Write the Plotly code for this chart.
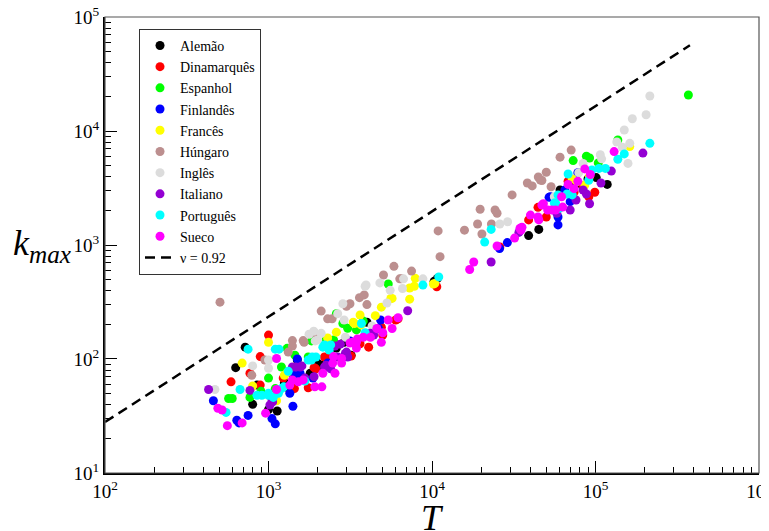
import plotly.graph_objects as go

# ---- data (T = text length, k_max) ----
languages = ["Alemão", "Dinamarquês", "Espanhol", "Finlandês", "Francês",
             "Húngaro", "Inglês", "Italiano", "Português", "Sueco"]
colors = ["#000000", "#ff0000", "#00ff00", "#0000ff", "#ffff00",
          "#bc8f8f", "#dcdcdc", "#9400d3", "#00ffff", "#ff00ff"]

alemao_T = [720, 630, 850, 800, 1000, 1130, 1350, 2000, 1500, 2100, 3200, 2600, 4000, 10300, 10800,
            39000, 45000, 60700, 101000, 118000, 75000, 90000, 1250, 1800, 2900]
alemao_k = [127, 84, 59, 40, 36, 35, 53, 92, 98, 88, 108, 125, 210, 480, 510,
            1210, 1370, 3040, 3900, 3400, 3360, 3800, 62, 75, 140]

dinam_T = [1000, 890, 770, 590, 890, 1230, 1440, 1900, 1750, 1950, 2200, 3200, 3630, 4100, 5000,
           6000, 6200, 4900, 10700, 2400,
           39000, 44500, 50000, 68000, 99000, 91000, 74000, 26000, 84000]
dinam_k = [162, 105, 75, 63, 59, 68, 55, 84, 56, 82, 104, 106, 136, 127, 162,
           220, 225, 190, 430, 108,
           1660, 2140, 1760, 3630, 2900, 2650, 2920, 960, 3300]

esp_T = [1000, 570, 600, 770, 1100, 1200, 1300, 1750, 1450, 1830, 2250, 2500, 2600, 2850, 3050,
         3450, 3800, 5400, 900,
         73000, 92000, 137000, 370000, 104000, 88000]
esp_k = [68, 45, 45, 46, 55, 85, 124, 104, 108, 144, 147, 147, 250, 205, 186,
         180, 215, 455, 52,
         5500, 5800, 8350, 20700, 5250, 6000]

fin_T = [460, 640, 660, 750, 1100, 1410, 1500, 1400, 1560, 1350, 1500, 1870, 2300, 3150, 3900,
         4700, 4850, 1050,
         25900, 28900, 53000, 59000, 52000, 59000, 65000, 78000, 70000]
fin_k = [43, 29, 27.5, 32, 27, 38.5, 68, 74, 75, 50, 100, 68, 92, 144, 162,
         185, 220, 30,
         930, 1050, 2650, 1500, 2620, 1760, 3040, 4300, 2400]

fra_T = [1000, 690, 1120, 1300, 1250, 2300, 2600, 3300, 3350, 3630, 3680, 4500, 4900, 5600, 5700,
         7300, 7300, 7900, 7800, 10200, 10400, 800,
         72000, 162000, 86000, 92000, 77000]
fra_k = [140, 92, 43, 76, 72, 153, 172, 210, 205, 243, 199, 240, 285, 340, 340,
         335, 420, 510, 435, 455, 460, 58,
         3800, 7300, 3360, 4000, 3600]

hun_T = [505, 790, 1400, 1400, 1320, 1630, 1900, 1650, 2100, 2300, 2450, 3000, 3150, 3600, 4000,
         3850, 5050, 5850, 6350, 6500, 7500, 11200, 10900, 950,
         15800, 19700, 24300, 25000, 19000, 23100, 20200, 30900, 38300, 41000, 44700, 50000,
         47000, 53500, 60700, 71000, 46000]
hun_k = [315, 72, 145, 130, 115, 145, 170, 140, 263, 225, 225, 290, 305, 345, 300,
         365, 545, 650, 505, 505, 590, 790, 1330, 98,
         1350, 2060, 2030, 1900, 1530, 1530, 1250, 2750, 3500, 3300, 3950, 4350,
         3680, 3240, 5900, 6800, 3720]

ing_T = [470, 800, 1000, 1000, 1770, 2000, 1930, 2100, 2650, 2850, 2900, 2950, 3900, 3950, 4300,
         4800, 5300, 5550, 6600, 6700, 8800, 1890,
         26000, 29000, 56000, 79000, 84000, 107000, 109000, 135000, 146000, 150000, 158000,
         162000, 168000, 204000, 215000]
ing_k = [54, 87, 83, 98, 165, 147, 144, 168, 250, 305, 220, 155, 435, 446, 195,
         465, 310, 400, 415, 505, 505, 175,
         1530, 1600, 2650, 4300, 5200, 6200, 5700, 8000, 7200, 10200, 5200,
         7800, 12800, 13900, 20300]

ita_T = [430, 770, 1050, 1020, 1060, 1470, 1600, 1400, 1560, 1900, 2200, 2250, 2400, 2650, 2750,
         2950, 3050, 3000, 2550, 4200, 4400, 7100, 1670,
         23000, 34000, 58000, 70000, 76000, 84000, 88000, 108000, 125000, 195000, 92000]
ita_k = [54, 53, 44, 39.5, 42, 85, 87, 85, 85, 70, 85, 88, 82, 104, 135,
         112, 104, 115, 130, 168, 162, 265, 68,
         710, 1290, 1900, 2030, 2480, 3040, 2800, 3500, 4450, 6400, 2300]

por_T = [750, 670, 550, 910, 1000, 1070, 850, 1000, 1100, 1160, 1200, 1320, 1670, 1750, 1830,
         1850, 1950, 2200, 2400, 2150, 2350, 3700, 3900, 8800, 11000, 1150, 1240,
         21000, 23000, 56000, 57000, 60000, 67000, 72000, 59000, 68000, 91000, 95000,
         105000, 115000, 137000, 150000, 215000]
por_k = [122, 54, 34, 48, 48, 46, 48, 50, 122, 122, 55, 78, 64, 98, 98,
         104, 104, 133, 133, 127, 120, 205, 170, 445, 525, 50, 57,
         1060, 1370, 2330, 2330, 2100, 2800, 2750, 2750, 4200, 3700, 4550,
         4700, 4700, 5650, 6300, 7800]

sue_T = [520, 560, 690, 1120, 960, 1120, 1400, 1520, 1350, 1630, 1920, 2120, 2150, 2470, 2550,
         2800, 2800, 2500, 3150, 3260, 3450, 3500, 3800, 3450, 4200, 4600, 5000, 4900, 5400,
         5700, 6200, 490,
         17000, 18000, 25000, 32000, 34500, 35500, 40000, 44500, 45000, 48000, 51000, 57000,
         63000, 54000, 47000, 35000, 62000, 68000, 74000, 78000, 86000, 93000, 130000]
sue_k = [35.7, 26, 27.5, 54, 33.5, 101, 65.5, 63, 59, 65.5, 57, 57, 75, 92, 75,
         92, 101, 105, 138, 140, 140, 150, 155, 125, 155, 185, 170, 140, 220,
         185, 230, 37,
         610, 710, 980, 1150, 1400, 1430, 1830, 1760, 1660, 2300, 2030, 2030,
         2150, 2030, 2240, 1350, 2650, 3400, 3120, 3620, 4650, 4150, 6600]

series_T = [alemao_T, dinam_T, esp_T, fin_T, fra_T, hun_T, ing_T, ita_T, por_T, sue_T]
series_k = [alemao_k, dinam_k, esp_k, fin_k, fra_k, hun_k, ing_k, ita_k, por_k, sue_k]

# power-law guide line k = A * T^nu
fit_T = [100, 378000]
fit_k = [28, 56500]
fit_label = "ν = 0.92"

x_tick_vals = [1e2, 1e3, 1e4, 1e5, 1e6]
x_tick_text = ["10<sup>2</sup>", "10<sup>3</sup>", "10<sup>4</sup>", "10<sup>5</sup>", "10<sup>6</sup>"]
y_tick_vals = [1e1, 1e2, 1e3, 1e4, 1e5]
y_tick_text = ["10<sup>1</sup>", "10<sup>2</sup>", "10<sup>3</sup>", "10<sup>4</sup>", "10<sup>5</sup>"]
minor_digits = [2, 3, 4, 5, 6, 7, 8, 9]
x_minor = [d * 10 ** e for e in range(2, 6) for d in minor_digits]
y_minor = [d * 10 ** e for e in range(1, 5) for d in minor_digits]

x_range = [1.9999, 6.0001]
y_range = [0.9999, 5.0001]

SERIF = "Liberation Serif, Times New Roman, serif"

fig = go.Figure()
for name, col, tx, ky in zip(languages, colors, series_T, series_k):
    fig.add_trace(go.Scatter(x=tx, y=ky, mode="markers", name=name,
                             marker=dict(color=col, size=9, line=dict(width=0))))

fig.add_trace(go.Scatter(x=fit_T, y=fit_k, mode="lines", name=fit_label,
                         line=dict(color="black", width=2.5, dash="10px,6px")))

axis_common = dict(
    type="log", showgrid=False, zeroline=False, automargin=False,
    ticks="inside", ticklen=12, tickwidth=1.2, tickcolor="black",
    showline=True, linecolor="black", linewidth=2,
    ticklabeloverflow="allow",
    tickfont=dict(family=SERIF, size=19, color="black"),
)
fig.update_layout(
    xaxis=dict(**axis_common, range=x_range, tickmode="array",
               tickvals=x_tick_vals, ticktext=x_tick_text),
    yaxis=dict(**axis_common, range=y_range, tickmode="array",
               tickvals=y_tick_vals, ticktext=y_tick_text),
    # overlay axes that carry the minor ticks only
    xaxis2=dict(type="log", range=x_range, overlaying="x", side="bottom", anchor="y",
                showgrid=False, zeroline=False, showline=False, automargin=False,
                tickmode="array", tickvals=x_minor, ticks="inside", ticklen=6,
                tickwidth=1, tickcolor="black", showticklabels=False),
    yaxis2=dict(type="log", range=y_range, overlaying="y", side="left", anchor="x",
                showgrid=False, zeroline=False, showline=False, automargin=False,
                tickmode="array", tickvals=y_minor, ticks="inside", ticklen=6,
                tickwidth=1, tickcolor="black", showticklabels=False),
)
# invisible trace so the minor-tick axes are drawn
fig.add_trace(go.Scatter(x=[fit_T[0]], y=[fit_k[0]], xaxis="x2", yaxis="y2",
                         mode="markers", marker=dict(opacity=0), showlegend=False,
                         hoverinfo="skip"))

fig.update_layout(
    width=761, height=523,
    margin=dict(l=97, r=10, t=9, b=58),
    plot_bgcolor="white", paper_bgcolor="white",
    showlegend=True,
    legend=dict(x=0.052, y=0.974, xanchor="left", yanchor="top",
                bordercolor="#333333", borderwidth=1, bgcolor="white",
                font=dict(family=SERIF, size=14, color="black"),
                itemwidth=30, tracegroupgap=0),
    shapes=[dict(type="rect", xref="paper", yref="paper", x0=0, y0=0, x1=1, y1=1,
                 line=dict(color="#555555", width=1.2), layer="above")],
    annotations=[
        dict(text="<i>k<sub>max</sub></i>", xref="paper", yref="paper",
             x=-0.096, y=0.5, xanchor="center", yanchor="middle", showarrow=False,
             font=dict(family=SERIF, size=36, color="black")),
        dict(text="<i>T</i>", xref="paper", yref="paper",
             x=0.5, y=-0.05, xanchor="center", yanchor="top", showarrow=False,
             font=dict(family=SERIF, size=36, color="black")),
    ],
)

fig.write_html("out.html")
